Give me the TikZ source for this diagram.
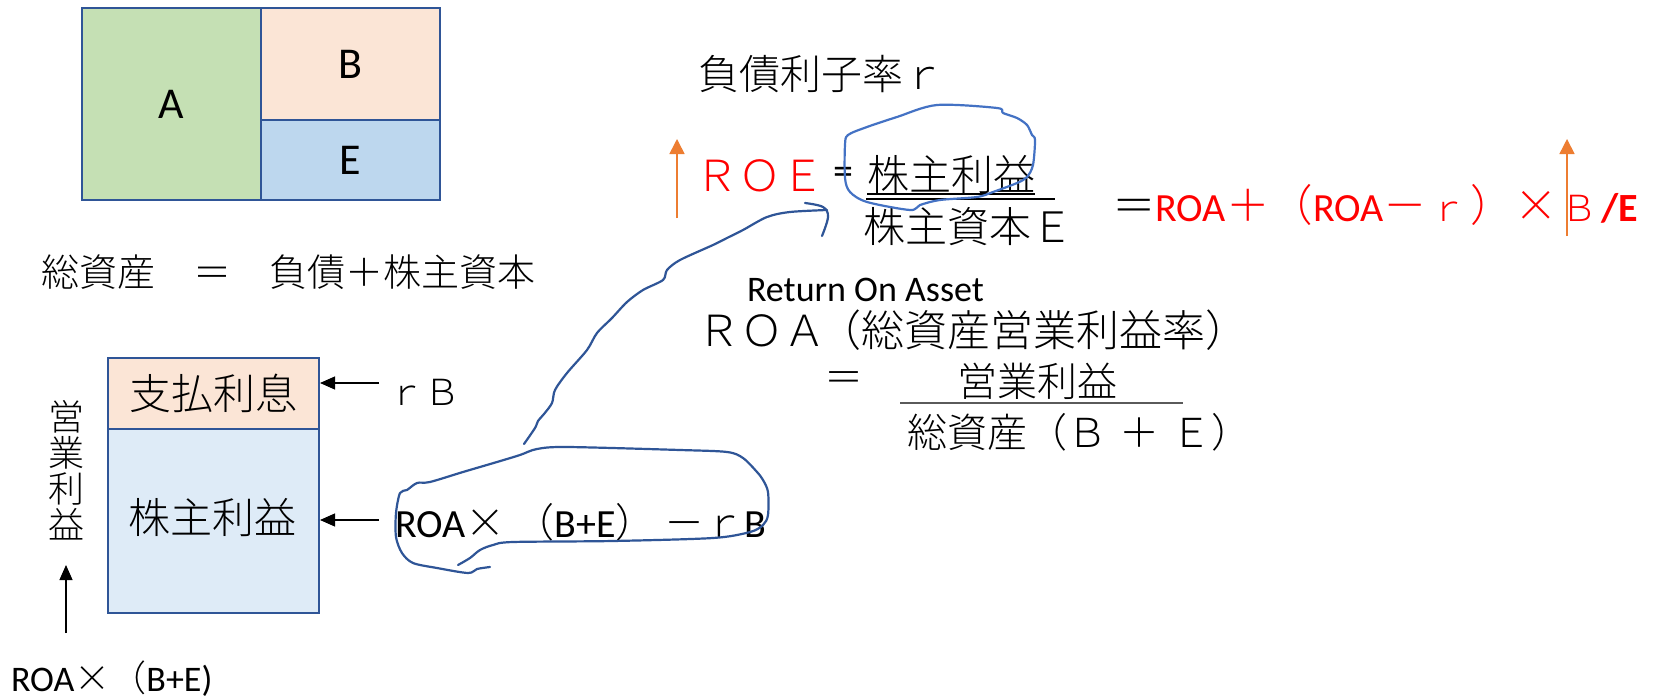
\documentclass[tikz,border=0pt]{standalone}
\usepackage{fontspec}
\setmainfont{Carlito}
\newfontfamily\jp{Noto Sans CJK JP Light}
\usetikzlibrary{arrows.meta}
\definecolor{boxblue}{RGB}{47,85,151}
\definecolor{afill}{RGB}{197,224,180}
\definecolor{bfill}{RGB}{251,229,214}
\definecolor{efill}{RGB}{189,215,238}
\definecolor{lfill}{RGB}{222,235,247}
\definecolor{orng}{RGB}{237,125,49}
\definecolor{pen}{RGB}{47,85,151}
\definecolor{pentwo}{RGB}{68,114,196}
\definecolor{redtxt}{RGB}{255,0,0}
\definecolor{graytxt}{RGB}{90,90,90}
\newcommand\myfs[1]{\fontsize{#1}{#1}\selectfont}
\newcommand\J[1]{{\jp #1}}
\newcommand\JJ[1]{{\jp\myfs{43.5}#1}}
\newcommand\JS[1]{\makebox[43.5pt]{\jp\myfs{36}#1}}
\begin{document}
\begin{tikzpicture}[x=1pt,y=-1pt,
  blk/.style={draw=boxblue,line width=2pt,inner sep=0pt},
  lbl/.style={inner sep=0pt,outer sep=0pt},
  jlbl/.style={inner sep=0pt,outer sep=0pt,font=\jp},
  blkarrow/.style={line width=1.2pt,-{Triangle[width=13pt,length=15pt]}},
  orarrow/.style={draw=orng,line width=1.6pt,-{Triangle[width=15pt,length=15pt]}},
  penline/.style={draw=pen,line width=2.2pt,line cap=round,line join=round},
  pentwoline/.style={draw=pentwo,line width=2.2pt,line cap=round,line join=round}]
\useasboundingbox[fill=white] (0,0) rectangle (1662,698);

% top balance sheet
\node[blk,fill=afill,minimum width=179pt,minimum height=192pt,anchor=north west,font=\myfs{44}] (A) at (81,7) {A};
\node[blk,fill=bfill,minimum width=179pt,minimum height=112pt,anchor=north west,font=\myfs{44}] (B) at (260,7) {B};
\node[blk,fill=efill,minimum width=179pt,minimum height=80pt,anchor=north west,font=\myfs{44}] (E) at (260,119) {E};

\node[jlbl,font={\jp\myfs{38}},anchor=west] (eqn) at (41,272) {総資産　＝　負債＋株主資本};

% lower box
\node[blk,fill=bfill,minimum width=211pt,minimum height=71pt,anchor=north west,font={\jp\myfs{42}}] (pay) at (107,357) {支払利息};
\node[blk,fill=lfill,minimum width=211pt,minimum height=184pt,anchor=north west] (own) at (107,428) {};
\node[jlbl,font={\jp\myfs{42}}] (owntxt) at (212,518) {株主利益};

\node[jlbl,font={\jp\myfs{36}},align=center] (vt) at (66,470) {営\\業\\利\\益};
\coordinate (ua) at (66,633);
\draw[blkarrow] (ua) -- (ua |- 0,565);
\node[lbl,font=\myfs{36},anchor=west] (roabe) at (11,679) {ROA\J{×}\J{（}B+E)};

\node[jlbl,font={\jp\myfs{36}},anchor=west] (rb) at (388,392) {ｒＢ};
\coordinate (a1) at (379,383);
\draw[blkarrow] (a1) -- (a1 -| pay.east);
\node[lbl,font=\myfs{40},anchor=west] (sh) at (395,522) {ROA\J{×} \J{（}B+E\J{）} \J{－ｒ}B};
\coordinate (a2) at (379,520);
\draw[blkarrow] (a2) -- (a2 -| own.east);

% ROE
\node[jlbl,font={\jp\myfs{41}},anchor=west] (rate) at (698.5,74) {負債利子率ｒ};
\coordinate (o1) at (677,218);
\draw[orarrow] (o1) -- (o1 |- 0,139);
\node[jlbl,font={\jp\myfs{43}},anchor=west,text=redtxt] (roe) at (695.5,176) {ＲＯＥ};
\node[lbl,font=\myfs{40}] (eq1) at (843,176) {=};
\node[jlbl,font={\jp\myfs{42}}] (num) at (951,175) {株主利益};
\draw[line width=1.4pt] (num.south west) -- (num.south east);
\coordinate (f1) at (866,199);
\coordinate (f2) at (1055,199);
\draw[line width=1.4pt] (f1) -- (f2);
\node[jlbl,font={\jp\myfs{42}}] (den) at (968,227) {株主資本Ｅ};
\node[lbl,font=\myfs{40},anchor=west] (roef) at (1112,205) {\JJ{＝}\textcolor{redtxt}{ROA\JJ{＋（}ROA\JJ{－}\JS{ｒ}\JJ{）×}\JS{Ｂ}\textbf{/E}}};
\coordinate (o2) at (1567,236);
\draw[orarrow] (o2) -- (o2 |- 0,139);

% ROA
\node[lbl,font=\myfs{36},anchor=base west] (ret) at (747,301) {Return On Asset};
\node[jlbl,font={\jp\myfs{43}},anchor=west] (roa) at (697,330) {ＲＯＡ\hspace{-8pt}（総資産営業利益率）};
\node[jlbl,font={\jp\myfs{39}}] (eq2) at (844,382) {＝};
\node[jlbl,font={\jp\myfs{40}}] (opn) at (1037,381) {営業利益};
\coordinate (g1) at (900,403);
\coordinate (g2) at (1183,403);
\draw[draw=graytxt,line width=1.5pt] (g1) -- (g2);
\node[jlbl,font={\jp\myfs{40}},anchor=west] (tot) at (907,432) {総資産（Ｂ\hspace{0.3em}＋\hspace{0.3em}Ｅ）};

% hand-drawn strokes
\draw[pentwoline] plot[smooth cycle,tension=0.5] coordinates {(910,210) (867,202) (850,192) (845,178) (845,145) (848,135) (867,127) (897,117) (937,105) (997,108) (1003,113) (1017,118) (1027,125) (1032,135) (1035,140) (1033,165) (1027,177) (1017,183) (993,192) (977,197) (940,200) (920,205)};

\draw[penline] plot[smooth,tension=0.5] coordinates {(524,444) (535,428) (538,421) (544,414) (552,403) (555,390) (567,373) (587,350) (597,333) (612,318) (627,302) (643,290) (663,280) (667,270) (680,260) (713,245) (727,238) (743,230) (767,217) (790,212) (827,210)};
\draw[penline] plot[smooth,tension=0.6] coordinates {(805,203) (823,207) (828,217) (822,236)};

\draw[penline] plot[smooth,tension=0.5] coordinates {(458,565) (470,558) (480,550) (493,545) (513,542) (613,541) (713,538) (750,532) (763,525) (768,515) (768,492) (763,480) (757,472) (743,458) (727,452) (680,450) (567,447) (537,449) (520,455) (497,462) (463,472) (430,482) (417,483) (407,490) (400,493) (396,513) (396,537) (402,553) (413,563) (437,568) (468,573) (477,569) (490,567)};
\end{tikzpicture}
\end{document}
